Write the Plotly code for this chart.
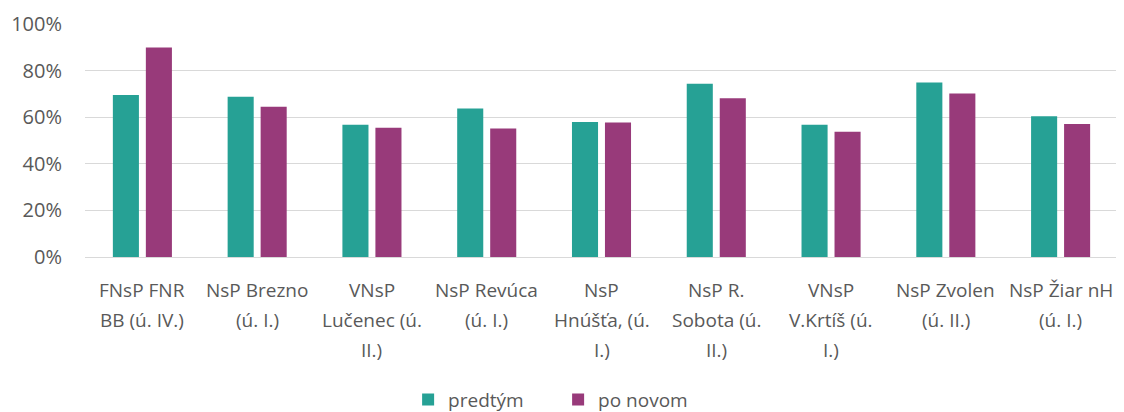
import plotly.graph_objects as go

categories = [
    "FNsP FNR BB (ú. IV.)",
    "NsP Brezno (ú. I.)",
    "VNsP Lučenec (ú. II.)",
    "NsP Revúca (ú. I.)",
    "NsP Hnúšťa, (ú. I.)",
    "NsP R. Sobota (ú. II.)",
    "VNsP V.Krtíš (ú. I.)",
    "NsP Zvolen (ú. II.)",
    "NsP Žiar nH (ú. I.)",
]
category_lines = [
    ["FNsP FNR", "BB (ú. IV.)"],
    ["NsP Brezno", "(ú. I.)"],
    ["VNsP", "Lučenec (ú.", "II.)"],
    ["NsP Revúca", "(ú. I.)"],
    ["NsP", "Hnúšťa, (ú.", "I.)"],
    ["NsP R.", "Sobota (ú.", "II.)"],
    ["VNsP", "V.Krtíš (ú.", "I.)"],
    ["NsP Zvolen", "(ú. II.)"],
    ["NsP Žiar nH", "(ú. I.)"],
]
predtym = [0.695, 0.688, 0.568, 0.637, 0.579, 0.744, 0.568, 0.749, 0.604]
po_novom = [0.899, 0.645, 0.555, 0.552, 0.577, 0.681, 0.538, 0.702, 0.571]
ytick_vals = [0, 0.2, 0.4, 0.6, 0.8, 1.0]
ytick_text = ["0%", "20%", "40%", "60%", "80%", "100%"]

font_family = "Open Sans, Lato, sans-serif"
text_color = "#595959"

fig = go.Figure()
fig.add_trace(go.Bar(name="predtým", x=categories, y=predtym,
                     marker=dict(color="#26A195", line=dict(width=0))))
fig.add_trace(go.Bar(name="po novom", x=categories, y=po_novom,
                     marker=dict(color="#983A7A", line=dict(width=0))))

# multi-line category labels with Excel-like line spacing
for cat, lines in zip(categories, category_lines):
    for i, line in enumerate(lines):
        fig.add_annotation(x=cat, y=0, xref="x", yref="y", text=line,
                           showarrow=False, yanchor="middle", xanchor="center",
                           yshift=-(33 + 30 * i),
                           font=dict(family=font_family, size=19, color=text_color))

# page body has an 8px margin, so the figure is sized/offset to compensate
fig.update_layout(
    width=1116, height=404,
    margin=dict(l=77, r=6, t=15.5, b=155, autoexpand=False),
    paper_bgcolor="white", plot_bgcolor="white",
    barmode="group", bargap=0.425, bargroupgap=0.21,
    font=dict(family=font_family, size=19, color=text_color),
    showlegend=True,
    legend=dict(orientation="h", x=0.458, xanchor="center", y=-0.612, yanchor="middle",
                font=dict(size=19, color=text_color), itemwidth=30, entrywidth=105,
                traceorder="normal"),
    xaxis=dict(showgrid=False, showline=False, ticks="", showticklabels=False),
    yaxis=dict(range=[0, 1.0], tickvals=ytick_vals, ticktext=ytick_text,
               showgrid=True, gridcolor="#D9D9D9", gridwidth=1.3,
               zeroline=True, zerolinecolor="#D9D9D9", zerolinewidth=1.3,
               showline=False, ticks="", ticklabelstandoff=22,
               tickfont=dict(size=20, color=text_color)),
)

fig.write_html("out.html")
